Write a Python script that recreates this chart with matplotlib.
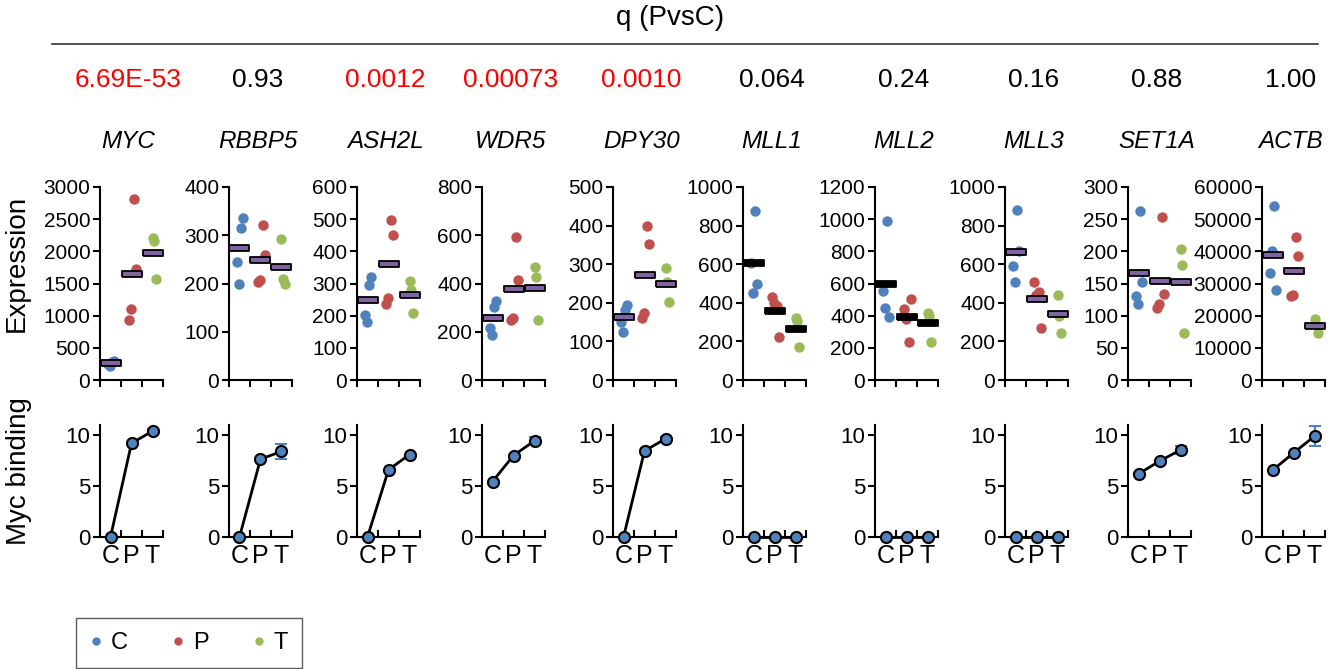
import matplotlib.pyplot as plt
from matplotlib.lines import Line2D
import numpy as np

plt.rcParams['font.family'] = ['Liberation Sans', 'DejaVu Sans']

genes = ['MYC', 'RBBP5', 'ASH2L', 'WDR5', 'DPY30', 'MLL1', 'MLL2', 'MLL3', 'SET1A', 'ACTB']
q_values = ['6.69E-53', '0.93', '0.0012', '0.00073', '0.0010', '0.064', '0.24', '0.16', '0.88', '1.00']
q_significant = [True, False, True, True, True, False, False, False, False, False]

expr_max = [3000, 400, 600, 800, 500, 1000, 1200, 1000, 300, 60000]
expr_step = [500, 100, 100, 200, 100, 200, 200, 200, 50, 10000]

# replicate values
expr_C = [
    [295, 280, 250, 215],
    [335, 316, 244, 200],
    [319, 295, 202, 179],
    [327, 304, 217, 188],
    [195, 182, 149, 125],
    [495, 875, 605, 450],
    [390, 986, 554, 446],
    [666, 882, 592, 510],
    [153, 263, 131, 118],
    [28000, 54000, 33200, 40200],
]
expr_P = [
    [2810, 1720, 1110, 930],
    [321, 259, 207, 204],
    [497, 450, 256, 236],
    [592, 415, 256, 249],
    [400, 352, 173, 160],
    [385, 225, 401, 429],
    [235, 504, 378, 444],
    [458, 272, 441, 509],
    [254, 134, 118, 112],
    [44400, 38700, 26500, 26000],
]
expr_T = [
    [2200, 2165, 1570],
    [292, 209, 199],
    [308, 280, 207],
    [468, 427, 249],
    [289, 255, 201],
    [322, 304, 172],
    [419, 401, 235],
    [441, 332, 246],
    [203, 179, 73],
    [18900, 17100, 14500],
]

groups = ['C', 'P', 'T']
binding_mean = [
    [0, 9.2, 10.4],
    [0, 7.65, 8.4],
    [0, 6.6, 8.1],
    [5.45, 8.0, 9.45],
    [0, 8.45, 9.65],
    [0, 0, 0],
    [0, 0, 0],
    [0, 0, 0],
    [6.2, 7.45, 8.55],
    [6.55, 8.25, 9.9],
]
binding_err = [
    [0, 0, 0.2],
    [0, 0, 0.7],
    [0, 0, 0],
    [0, 0, 0.35],
    [0, 0, 0.15],
    [0, 0, 0],
    [0, 0, 0],
    [0, 0, 0],
    [0, 0, 0.4],
    [0, 0, 1.0],
]

colors = ['#4F81BD', '#C0504D', '#9BBB59']
jitter = [[0.18, 0.06, -0.10, -0.02], [0.10, 0.20, -0.02, -0.10], [0.0, 0.07, 0.15]]
black_bars = ['MLL1', 'MLL2']
bar_marker = [(-1, -0.27), (1, -0.27), (1, 0.27), (-1, 0.27), (-1, -0.27)]

W, H = 1341, 669
fig = plt.figure(figsize=(W / 100, H / 100), dpi=100)

panel_left = [100, 229, 357, 482, 613, 743, 875, 1005, 1128, 1262]
panel_w = 63


def box(x, top, w, h):
    return [x / W, 1 - (top + h) / H, w / W, h / H]


def style(ax):
    for s in ['top', 'right']:
        ax.spines[s].set_visible(False)
    for s in ['left', 'bottom']:
        ax.spines[s].set_linewidth(1.5)
        ax.spines[s].set_color('black')


for i, gene in enumerate(genes):
    cx = panel_left[i] + panel_w / 2 - 3
    fig.text(cx / W, 1 - 80 / H, q_values[i], ha='center', va='center', fontsize=19,
             color='#FF0000' if q_significant[i] else 'black')
    fig.text(cx / W, 1 - 142 / H, gene, ha='center', va='center', fontsize=17.5, style='italic')

    # expression dots + mean bars
    ax = fig.add_axes(box(panel_left[i], 187, panel_w, 193))
    for g, vals in enumerate([expr_C[i], expr_P[i], expr_T[i]]):
        x = g + 0.5 + np.array(jitter[g][:len(vals)])
        ax.plot(x, vals, 'o', ms=7.5, color=colors[g], mec='none', zorder=3, clip_on=False)
        fc = 'black' if gene in black_bars else '#8064A2'
        ax.plot([g + 0.5], [np.mean(vals)], ls='none', marker=bar_marker, ms=14.5,
                mfc=fc, mec='black', mew=1.3, zorder=4, clip_on=False)
    ax.set_xlim(0, 3)
    ax.set_ylim(0, expr_max[i])
    ax.set_yticks(np.arange(0, expr_max[i] + expr_step[i] / 2, expr_step[i]))
    ax.set_xticks([0, 1, 2, 3])
    ax.set_xticklabels([])
    style(ax)
    ax.tick_params(axis='y', direction='out', length=5, width=1.5, labelsize=15, pad=2)
    ax.tick_params(axis='x', direction='out', length=5, width=1.5)

    # Myc binding
    ax2 = fig.add_axes(box(panel_left[i], 425, panel_w, 112))
    xs = np.arange(3) + 0.5
    ax2.errorbar(xs, binding_mean[i], yerr=binding_err[i], fmt='none', ecolor=colors[0],
                 elinewidth=1.5, capsize=4, capthick=1.5, zorder=2)
    ax2.plot(xs, binding_mean[i], '-', color='black', lw=2, marker='o', ms=8,
             mfc=colors[0], mec='black', mew=1.5, zorder=3, clip_on=False)
    ax2.set_xlim(0, 3)
    ax2.set_ylim(0, 11)
    ax2.set_yticks([0, 5, 10])
    ax2.set_xticks([0, 1, 2, 3])
    ax2.set_xticklabels([])
    ax2.set_xticks(xs, minor=True)
    ax2.set_xticklabels(groups, minor=True)
    style(ax2)
    ax2.tick_params(axis='y', direction='out', length=5, width=1.5, labelsize=16, pad=2)
    ax2.tick_params(axis='x', which='major', direction='in', length=5, width=1.5)
    ax2.tick_params(axis='x', which='minor', length=0, labelsize=18, pad=5)

fig.text(670 / W, 1 - 18 / H, 'q (PvsC)', ha='center', va='center', fontsize=20)
fig.add_artist(Line2D([52 / W, 1318 / W], [1 - 44 / H, 1 - 44 / H], color='#333333', lw=1.2))

fig.text(17 / W, 1 - 263 / H, 'Expression', rotation=90, ha='center', va='center', fontsize=20)
fig.text(19 / W, 1 - 471 / H, 'Myc binding', rotation=90, ha='center', va='center', fontsize=20)

handles = [Line2D([], [], ls='none', marker='o', ms=6, color=c, mec='none') for c in colors]
leg = fig.legend(handles, groups, loc='lower left', bbox_to_anchor=(76 / W, 1 - 668 / H),
                 ncol=3, frameon=True, fancybox=False, edgecolor='#333333', fontsize=17,
                 handlelength=0.5, handletextpad=0.36, columnspacing=1.9, borderpad=0.6,
                 borderaxespad=0)
leg.get_frame().set_linewidth(1.0)

fig.savefig('out.png', dpi=100)
